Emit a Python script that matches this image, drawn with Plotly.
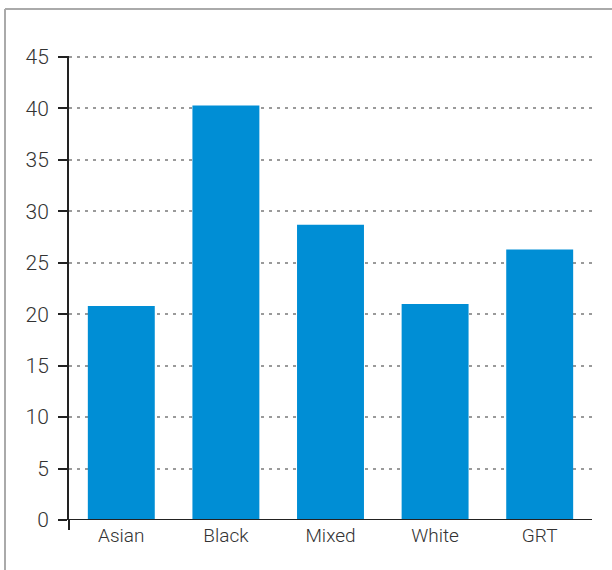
import plotly.graph_objects as go

categories = ["Asian", "Black", "Mixed", "White", "GRT"]
values = [20.8, 40.3, 28.7, 21.0, 26.3]
y_ticks = [0, 5, 10, 15, 20, 25, 30, 35, 40, 45]

fig = go.Figure()
fig.add_trace(go.Bar(
    x=categories, y=values,
    marker=dict(color="#008ED5", line=dict(width=0)),
    hoverinfo="skip",
))

xfont = dict(family="Roboto, Liberation Sans, Arial, sans-serif", size=19, color="#333333", weight=300)
yfont = dict(family="Roboto, Liberation Sans, Arial, sans-serif", size=21, color="#333333", weight=300)

W, H = 612, 570
L, R, T, B = 69, 20, 56, 50
pw, ph = W - L - R, H - T - B

def px_x(x):
    return (x - L) / pw

def px_y(y):
    return (H - B - y) / ph

fig.update_layout(
    width=W, height=H,
    margin=dict(l=L, r=R, t=T, b=B),
    paper_bgcolor="white", plot_bgcolor="white",
    bargap=0.36,
    showlegend=False,
    font=xfont,
    xaxis=dict(
        range=[-0.5, 4.5], showgrid=False, zeroline=False,
        showline=False, ticks="", tickfont=xfont, ticklabelstandoff=2,
        fixedrange=True,
    ),
    yaxis=dict(
        range=[0, 45.1], tickvals=y_ticks, ticktext=[str(v) for v in y_ticks],
        showgrid=True, gridcolor="#9A9A9A", gridwidth=1.5, griddash="3px,5px",
        zeroline=False, showline=True, linecolor="#222222", linewidth=2,
        ticks="outside", ticklen=9, tickwidth=2, tickcolor="#222222",
        tickfont=yfont, ticklabelstandoff=5, fixedrange=True,
    ),
    shapes=[
        dict(type="line", xref="paper", yref="y", x0=px_x(59), x1=1.0, y0=0, y1=0,
             line=dict(color="#222222", width=2), layer="above"),
        dict(type="line", xref="paper", yref="paper", x0=0, x1=0, y0=0, y1=px_y(530),
             line=dict(color="#222222", width=2), layer="above"),
        dict(type="line", xref="paper", yref="paper", x0=px_x(5), x1=px_x(640),
             y0=px_y(9), y1=px_y(9), line=dict(color="#AAAAAA", width=2)),
        dict(type="line", xref="paper", yref="paper", x0=px_x(5), x1=px_x(5),
             y0=px_y(9), y1=px_y(600), line=dict(color="#AAAAAA", width=2)),
    ],
)

fig.write_html(
    "out.html",
    config={"displayModeBar": False},
    post_script="document.body.style.margin='0';document.body.style.overflow='hidden';",
)
